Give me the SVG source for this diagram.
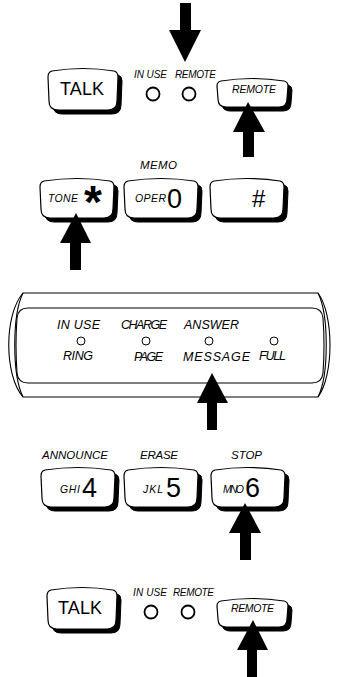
<svg xmlns="http://www.w3.org/2000/svg" xmlns:xlink="http://www.w3.org/1999/xlink" width="338" height="677" viewBox="0 0 338 677">
<style>
text{font-family:"Liberation Sans",Arial,sans-serif;fill:#000}
.lbl{font-style:italic;font-size:10px}
.lbl2{font-style:italic;font-size:11.5px}
.dl{font-style:italic;font-size:12.5px}
.big{font-size:18px}
.dig{font-size:27px}
.sm{font-style:italic;font-size:10.5px}
.sh{fill:#000;stroke:#000;stroke-width:1}
.face{fill:#fff;stroke:#000;stroke-width:1.2;stroke-linejoin:round}
.led{fill:#fff;stroke:#000;stroke-width:1.8}
.led2{fill:#fff;stroke:#000;stroke-width:1}
.bz{fill:none;stroke:#000;stroke-width:1.1}
.arr{fill:#000}
</style>
<defs>
<path id="kp" d="M4,3 Q37,-2 70,3 Q74,4 74,9 L73,31 Q73,40 64,40 L10,40 Q1,40 1,31 L0,9 Q0,4 4,3 Z"/>
<path id="tk" d="M4,3 Q35,-2 66,3 Q70,4 70,9 L69,33 Q69,42 60,42 L10,42 Q1,42 1,33 L0,9 Q0,4 4,3 Z"/>
<path id="rm" d="M4,3 Q35.5,-2 67,3 Q71,4 71,8 L70,21 Q70,29 62,29 L9,29 Q1,29 1,21 L0,8 Q0,4 4,3 Z"/>
</defs>

<g id="talk1">
<use href="#tk" x="52" y="72" class="sh"/>
<use href="#tk" x="48" y="68" class="face"/>
<text x="82" y="95" class="big" text-anchor="middle" textLength="44">TALK</text>
</g>
<g id="leds1">
<text x="134" y="78" class="lbl" textLength="33">IN USE</text>
<text x="175" y="78" class="lbl" textLength="41">REMOTE</text>
<circle cx="153" cy="94" r="6.5" class="led"/>
<circle cx="189" cy="94" r="6.5" class="led"/>
</g>
<g id="remote1">
<use href="#rm" x="221" y="82" class="sh"/>
<use href="#rm" x="217" y="78" class="face"/>
<text x="232" y="93" class="sm" textLength="44">REMOTE</text>
</g>

<g id="key-tone">
<use href="#kp" x="44" y="182" class="sh"/>
<use href="#kp" x="40" y="178" class="face"/>
<text x="48" y="202" class="sm" textLength="30">TONE</text>
<text x="84" y="218" style="font-size:46px;font-weight:bold">*</text>
</g>
<g id="key-oper">
<text x="140" y="169" class="lbl2" textLength="37">MEMO</text>
<use href="#kp" x="128" y="182" class="sh"/>
<use href="#kp" x="124" y="178" class="face"/>
<text x="135" y="202" class="sm" textLength="31">OPER</text>
<text x="167" y="208" class="dig">0</text>
</g>
<g id="key-hash">
<use href="#kp" x="214" y="182" class="sh"/>
<use href="#kp" x="210" y="178" class="face"/>
<text x="252" y="207" style="font-size:24px">#</text>
</g>

<g id="display">
<path class="bz" d="M23,293 L318,293 C334,315 334,375 318,397 L23,397 C4,375 4,315 23,293 Z"/>
<path class="bz" d="M23,293 C12,315 12,375 23,397"/>
<path class="bz" d="M318,293 C329,315 329,375 318,397"/>
<path class="bz" d="M28,308 L312,308 Q322,308 323,318 Q325,345 323,373 Q322,383 312,383 L28,383 Q18,383 17,373 Q15,345 17,318 Q18,308 28,308 Z"/>
<text x="57" y="329" class="dl" textLength="43">IN USE</text>
<text x="121" y="329" class="dl" textLength="46">CHARGE</text>
<text x="184" y="329" class="dl" textLength="55">ANSWER</text>
<circle cx="81" cy="341" r="4" class="led2"/>
<circle cx="146" cy="341" r="4" class="led2"/>
<circle cx="209" cy="341" r="4" class="led2"/>
<circle cx="274" cy="341" r="4" class="led2"/>
<text x="63" y="360" class="dl" textLength="30">RING</text>
<text x="134" y="361" class="dl" textLength="29">PAGE</text>
<text x="183" y="361" class="dl" textLength="67" lengthAdjust="spacing">MESSAGE</text>
<text x="259" y="360" class="dl" textLength="27">FULL</text>
</g>

<g id="key-4">
<text x="42" y="459" class="lbl2" textLength="66">ANNOUNCE</text>
<use href="#kp" x="45" y="471" class="sh"/>
<use href="#kp" x="41" y="467" class="face"/>
<text x="60" y="493" class="sm" textLength="20">GHI</text>
<text x="82" y="497" class="dig">4</text>
</g>
<g id="key-5">
<text x="140" y="459" class="lbl2" textLength="38">ERASE</text>
<use href="#kp" x="128" y="471" class="sh"/>
<use href="#kp" x="124" y="467" class="face"/>
<text x="143" y="493" class="sm" textLength="20">JKL</text>
<text x="166" y="497" class="dig">5</text>
</g>
<g id="key-6">
<text x="231" y="459" class="lbl2" textLength="31">STOP</text>
<use href="#kp" x="215" y="471" class="sh"/>
<use href="#kp" x="211" y="467" class="face"/>
<text x="223" y="493" class="sm" textLength="21">MNO</text>
<text x="245" y="497" class="dig">6</text>
</g>

<g id="talk2">
<use href="#tk" x="51" y="591" class="sh"/>
<use href="#tk" x="47" y="587" class="face"/>
<text x="80" y="614" class="big" text-anchor="middle" textLength="44">TALK</text>
</g>
<g id="leds2">
<text x="133" y="596" class="lbl" textLength="34">IN USE</text>
<text x="173" y="596" class="lbl" textLength="41">REMOTE</text>
<circle cx="151" cy="612" r="6.5" class="led"/>
<circle cx="188" cy="612" r="6.5" class="led"/>
</g>
<g id="remote2">
<use href="#rm" x="221" y="602" class="sh"/>
<use href="#rm" x="217" y="598" class="face"/>
<text x="231" y="612" class="sm" textLength="43">REMOTE</text>
</g>

<g id="connectors">
<polygon class="arr" points="180,3 191,3 191,30 201,30 185,62 169,30 180,30"/>
<polygon class="arr" points="248,102 265,132 254,132 254,157 243,157 243,132 233,132"/>
<polygon class="arr" points="76,213 91,243 81,243 81,270 70,270 70,243 60,243"/>
<polygon class="arr" points="212,373 228,403 217,403 217,430 207,430 207,403 197,403"/>
<polygon class="arr" points="245,503 261,533 251,533 251,560 240,560 240,533 229,533"/>
<polygon class="arr" points="253,620 268,650 257,650 257,677 247,677 247,650 237,650"/>
</g>
</svg>
